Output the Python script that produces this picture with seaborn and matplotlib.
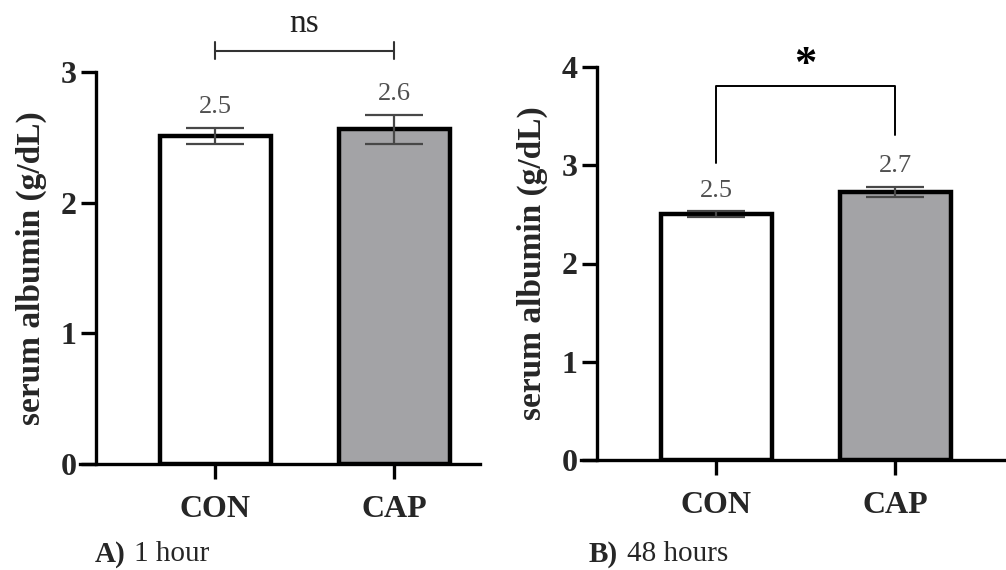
import matplotlib
matplotlib.use("Agg")
import matplotlib.pyplot as plt
import seaborn as sns
import pandas as pd
import numpy as np

sns.set_theme(style="white")
plt.rcParams['font.family'] = ['Liberation Serif', 'DejaVu Serif']

groups = ["CON", "CAP"]
means_1h = [2.51, 2.56]
sd_1h = [0.06, 0.11]
labels_1h = ["2.5", "2.6"]
means_48h = [2.50, 2.73]
sd_48h = [0.03, 0.05]
labels_48h = ["2.5", "2.7"]
colors = ["#ffffff", "#a3a2a7"]

W, H = 1006, 570
fig = plt.figure(figsize=(W / 100, H / 100), dpi=100)

def px_axes(x0, x1, ytop, ybot):
    return fig.add_axes([x0 / W, 1 - ybot / H, (x1 - x0) / W, (ybot - ytop) / H])

ax1 = px_axes(96, 480, 72, 464)
ax2 = px_axes(597, 1006, 67, 460)

def draw(ax, means, sds, labels, ymax, xright):
    df = pd.DataFrame({"group": groups, "value": means})
    sns.barplot(data=df, x="group", y="value", hue="group", palette=colors,
                edgecolor="black", linewidth=3.2, width=0.62, errorbar=None,
                legend=False, ax=ax, zorder=2)
    ax.errorbar(range(len(groups)), means, yerr=sds, fmt="none",
                ecolor="#474747", elinewidth=1.6, capsize=21, capthick=1.6, zorder=3)
    for i, (m, s, lab) in enumerate(zip(means, sds, labels)):
        ax.annotate(lab, (i, m + s), xytext=(0, 7), textcoords="offset points",
                    ha="center", va="bottom", fontsize=19, color="#505050")
    ax.set_ylim(0, ymax)
    ax.set_xlim(-0.665, xright)
    ax.set_yticks(range(0, ymax + 1))
    ax.set_xlabel("")
    ax.set_ylabel("serum albumin (g/dL)", fontsize=24, fontweight="bold", labelpad=10)
    for sp in ["top", "right"]:
        ax.spines[sp].set_visible(False)
    for sp in ["left", "bottom"]:
        ax.spines[sp].set_linewidth(2.4)
        ax.spines[sp].set_color("black")
    ax.tick_params(axis="both", direction="out", length=11, width=2.4, color="black",
                   labelsize=23, pad=3, left=True, bottom=True)
    for t in ax.get_xticklabels() + ax.get_yticklabels():
        t.set_fontweight("bold")
    ax.tick_params(axis="x", pad=11)
    ax.set_facecolor("white")

draw(ax1, means_1h, sd_1h, labels_1h, 3, 1.48)
draw(ax2, means_48h, sd_48h, labels_48h, 4, 1.62)

# extend the x axis to the left of the y axis, as in the reference
for ax in (ax1, ax2):
    ax.spines["bottom"].set_bounds(ax.get_xlim()[0] - 0.09, ax.get_xlim()[1])
    ax.spines["bottom"].set_clip_on(False)

# significance bracket "ns" (1 h)
ax1.plot([0, 1], [3.16, 3.16], color="#333333", lw=1.5, clip_on=False)
for x in (0, 1):
    ax1.plot([x, x], [3.10, 3.23], color="#333333", lw=1.5, clip_on=False)
ax1.text(0.5, 3.37, "ns", ha="center", va="center", fontsize=24, color="#222222")

# significance bracket "*" (48 h)
ax2.plot([0, 0, 1, 1], [3.02, 3.81, 3.81, 3.31], color="black", lw=1.4, clip_on=False)
ax2.text(0.5, 3.82, "*", ha="center", va="bottom", fontsize=32, fontweight="bold", color="black")

# panel captions
fig.text(95 / W, 1 - 554 / H, "A)", fontsize=21, fontweight="bold", va="center", ha="left")
fig.text(134 / W, 1 - 554 / H, "1 hour", fontsize=21, va="center", ha="left")
fig.text(589 / W, 1 - 554 / H, "B)", fontsize=21, fontweight="bold", va="center", ha="left")
fig.text(627 / W, 1 - 554 / H, "48 hours", fontsize=21, va="center", ha="left")

fig.savefig("out.png", dpi=100, facecolor="white")
